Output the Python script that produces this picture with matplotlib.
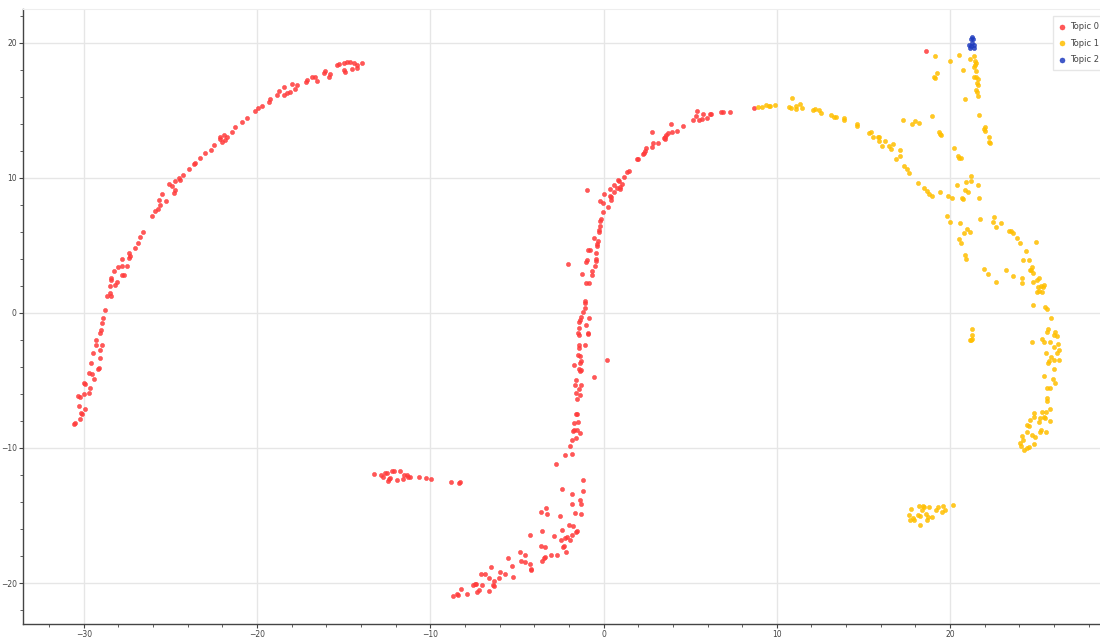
import numpy as np
import matplotlib.pyplot as plt
from matplotlib.ticker import MultipleLocator

# t-SNE coordinates of the documents, grouped by dominant topic
topic0 = np.array([
    # left arc
    (-30.58, -8.25), (-30.48, -8.13), (-30.19, -7.83), (-30.10, -7.51), (-29.90, -7.14),
    (-30.15, -7.44), (-30.29, -6.90), (-30.35, -6.16), (-30.23, -6.23), (-30.00, -6.03),
    (-29.71, -5.91), (-30.00, -5.17), (-29.90, -5.30), (-29.62, -5.54), (-29.71, -4.43),
    (-29.52, -4.56), (-29.42, -4.93), (-29.19, -4.19), (-29.10, -4.06), (-29.56, -3.74),
    (-29.04, -3.33), (-29.48, -2.96), (-29.08, -2.71), (-28.94, -2.41), (-29.27, -2.34),
    (-29.27, -2.04), (-29.04, -1.48), (-29.00, -1.23), (-28.94, -0.74), (-28.88, -0.37),
    (-28.75, 0.25), (-28.65, 1.28), (-28.46, 1.48), (-28.42, 1.28), (-28.50, 1.97),
    (-28.17, 2.09), (-28.08, 2.27), (-28.40, 2.46), (-28.40, 2.59), (-28.23, 3.13),
    (-28.04, 3.37), (-27.79, 3.45), (-27.50, 3.45), (-27.79, 2.83), (-27.69, 2.78),
    (-27.79, 3.99), (-27.40, 4.06), (-27.31, 4.19), (-27.40, 4.43), (-27.02, 4.80),
    (-26.88, 5.17), (-26.73, 5.62), (-26.58, 5.96), (-26.06, 7.14), (-25.87, 7.51),
    (-25.73, 7.68), (-25.58, 8.00), (-25.67, 8.37), (-25.48, 8.82), (-25.23, 8.25),
    (-24.81, 8.87), (-24.71, 9.11), (-24.90, 9.36), (-25.10, 9.53), (-24.71, 9.75),
    (-24.52, 9.98), (-24.42, 9.85), (-24.27, 10.20), (-23.94, 10.64), (-23.65, 11.03),
    (-23.56, 11.13), (-23.31, 11.45), (-22.98, 11.82), (-22.65, 12.07), (-22.50, 12.44),
    (-22.12, 12.86), (-22.15, 13.05), (-21.92, 13.15), (-21.73, 13.05), (-21.83, 12.81),
    (-22.02, 12.68), (-21.44, 13.42), (-21.25, 13.74), (-20.87, 14.16), (-20.58, 14.41),
    (-20.10, 14.98), (-19.96, 15.15), (-19.71, 15.32), (-19.33, 15.64), (-19.27, 15.81),
    (-18.85, 16.13), (-18.75, 16.45), (-18.46, 16.13), (-18.42, 16.70), (-18.27, 16.26),
    (-18.08, 16.38), (-17.98, 16.95), (-17.79, 16.55), (-17.69, 16.87), (-17.15, 17.12),
    (-17.12, 17.24), (-16.83, 17.49), (-16.63, 17.49), (-16.54, 17.19), (-16.15, 17.73),
    (-16.06, 17.93), (-15.87, 17.49), (-15.77, 17.66), (-15.38, 18.35), (-15.29, 18.42),
    (-15.00, 18.52), (-14.81, 18.60), (-15.00, 17.98), (-14.90, 17.86), (-14.62, 18.60),
    (-14.42, 18.52), (-14.52, 18.03), (-14.23, 18.10), (-14.23, 18.35), (-13.94, 18.52),
    # small cluster around (-12, -12)
    (-13.27, -11.89), (-12.83, -11.97), (-12.73, -12.14), (-12.63, -11.84), (-12.50, -11.84),
    (-12.38, -12.29), (-12.44, -12.46), (-12.31, -12.21), (-12.21, -11.72), (-12.10, -11.67),
    (-11.92, -12.38), (-11.73, -11.72), (-11.58, -12.29), (-11.52, -11.97), (-11.35, -11.97),
    (-11.29, -12.14), (-11.15, -12.14), (-10.65, -12.14), (-10.27, -12.21), (-9.94, -12.29),
    (-8.79, -12.51), (-8.35, -12.58), (-8.27, -12.53),
    # lower tail
    (-8.69, -20.93), (-8.44, -20.81), (-8.40, -20.88), (-8.21, -20.44), (-7.87, -20.84),
    (-7.54, -20.15), (-7.44, -20.07), (-7.35, -20.07), (-7.31, -20.64), (-7.21, -20.54),
    (-7.02, -20.12), (-7.10, -19.36), (-6.87, -19.34), (-6.63, -19.63), (-6.60, -20.57),
    (-6.48, -18.82), (-6.38, -20.15), (-6.31, -19.83), (-6.33, -20.20), (-6.04, -19.66),
    (-5.96, -19.16), (-5.71, -19.31), (-5.54, -18.16), (-5.27, -18.75), (-5.23, -19.53),
    (-4.85, -17.71), (-4.77, -18.38), (-4.56, -18.45), (-4.52, -17.89), (-4.23, -18.55),
    (-4.19, -18.92), (-4.17, -19.04), (-4.23, -16.41), (-3.60, -14.72), (-3.54, -16.12),
    (-3.60, -17.27), (-3.37, -17.32), (-3.54, -18.38), (-3.44, -18.13), (-3.37, -18.08),
    (-3.31, -14.47), (-3.27, -14.89), (-3.06, -17.94), (-2.87, -16.51), (-2.77, -11.20),
    (-2.69, -17.91), (-2.54, -15.01), (-2.40, -16.07), (-2.40, -13.07), (-2.46, -16.78),
    (-2.37, -17.32), (-2.27, -17.25), (-2.25, -16.66), (-2.21, -10.54), (-2.15, -17.69),
    (-2.10, -16.61), (-2.00, -15.72), (-1.96, -9.88), (-1.92, -16.78), (-1.85, -13.42),
    (-1.85, -10.47), (-1.81, -16.46), (-1.83, -14.15), (-1.77, -15.80), (-1.67, -14.84),
    (-1.58, -16.22), (-1.54, -16.12), (-1.37, -13.83), (-1.33, -14.15), (-1.29, -14.86),
    (-1.21, -13.19), (-1.17, -12.38),
    # central arc
    (-1.85, -9.41), (-1.58, -9.24), (-1.77, -8.74), (-1.69, -8.67), (-1.52, -8.67),
    (-1.38, -8.87), (-1.73, -8.18), (-1.50, -8.05), (-1.58, -7.46), (-1.54, -7.51),
    (-1.52, -6.40), (-1.38, -6.11), (-1.58, -5.94), (-1.42, -5.67), (-1.29, -5.34),
    (-1.62, -5.37), (-1.58, -4.98), (-1.35, -4.31), (-1.44, -4.19), (-1.31, -4.26),
    (-1.71, -3.89), (-1.35, -3.69), (-1.31, -3.57), (-1.48, -3.08), (-1.38, -3.20),
    (-1.42, -2.59), (-1.40, -2.34), (-1.10, -2.39), (-0.58, -4.78), (0.19, -3.45),
    (-0.90, -1.48), (-0.90, -1.55), (-1.00, -0.89), (-1.48, -1.48), (-1.44, -1.60),
    (-1.44, -1.11), (-1.42, -0.69), (-1.37, -0.54), (-1.29, -0.30), (-0.85, -0.37),
    (-1.19, 0.07), (-1.06, 0.34), (-1.06, 0.74), (-1.08, 0.86), (-1.04, 2.22),
    (-0.85, 2.22), (-1.23, 2.88), (-0.69, 2.78), (-0.65, 3.08), (-0.52, 3.45),
    (-0.42, 3.87), (-0.44, 3.99), (-1.04, 3.74), (-0.98, 3.94), (-0.88, 4.68),
    (-0.81, 4.68), (-0.42, 4.43), (-0.38, 4.93), (-0.38, 5.10), (-0.33, 5.30),
    (-0.56, 5.54), (-0.29, 5.96), (-0.27, 6.16), (-0.23, 6.40), (-0.19, 6.82),
    (-0.15, 6.95), (-0.04, 7.44), (0.25, 7.81), (-0.04, 8.13), (-0.19, 8.30),
    (-2.04, 3.65), (-0.98, 9.06), (0.02, 8.77), (0.44, 8.37), (0.40, 8.55),
    (0.38, 8.67), (0.37, 9.19), (0.63, 8.94), (0.77, 9.21), (0.92, 9.19),
    (0.96, 9.29), (1.06, 9.56), (0.87, 9.78), (0.60, 9.48), (0.83, 9.85),
    (1.19, 10.05), (1.35, 10.42), (1.44, 10.52), (1.94, 11.38), (1.98, 11.40),
    (2.25, 11.75), (2.35, 11.82), (2.40, 12.02), (2.46, 12.19), (2.81, 12.27),
    (2.83, 12.56), (2.81, 13.37), (3.12, 12.56), (3.46, 12.93), (3.52, 13.05),
    (3.52, 12.86), (3.58, 13.18), (3.69, 13.30), (3.92, 13.97), (3.96, 13.42),
    (4.23, 13.50), (4.60, 13.87), (5.15, 14.29), (5.35, 14.58), (5.37, 14.95),
    (5.50, 14.29), (5.73, 14.73), (5.69, 14.33), (5.96, 14.41), (6.12, 14.70),
    (6.19, 14.73), (6.75, 14.85), (6.87, 14.85), (7.27, 14.90), (8.67, 15.20),
    (18.58, 19.38),
])

topic1 = np.array([
    # upper band
    (8.90, 15.27), (9.15, 15.27), (9.35, 15.37), (9.54, 15.32),
    (9.58, 15.32), (9.92, 15.39), (10.88, 15.89), (10.73, 15.22), (10.83, 15.20),
    (11.08, 15.32), (11.12, 15.07), (11.35, 15.47), (11.46, 15.20), (12.08, 15.02),
    (12.21, 15.07), (12.42, 15.02), (12.56, 14.83), (13.13, 14.66), (13.29, 14.53),
    (13.42, 14.48), (13.85, 14.41), (13.90, 14.29), (14.62, 13.97), (14.63, 13.87),
    (15.31, 13.35), (15.44, 13.37), (15.54, 13.05), (15.83, 13.05), (15.92, 12.73),
    (15.88, 13.00), (16.06, 12.39), (16.25, 12.73), (16.50, 12.32), (16.56, 12.14),
    (16.69, 12.49), (17.12, 12.07), (17.08, 11.63), (16.88, 11.40), (17.31, 10.89),
    (17.52, 10.64), (17.62, 10.39), (18.17, 9.61), (18.48, 9.24), (18.65, 8.99),
    (18.81, 8.79), (18.94, 8.62), (19.42, 8.92), (19.87, 8.62), (20.08, 8.50),
    (20.38, 9.48), (20.69, 8.50), (20.75, 8.42), (20.85, 9.11), (21.04, 8.97),
    (20.92, 9.66), (21.21, 10.15), (21.21, 9.73), (21.62, 9.43), (21.65, 8.50),
    (19.81, 7.19), (20.02, 6.75), (20.58, 6.65), (21.73, 6.97), (22.56, 7.09),
    (22.50, 6.70), (22.65, 6.35), (22.92, 6.65), (20.96, 6.21), (21.17, 6.01),
    (20.79, 5.91), (20.54, 5.47), (20.60, 5.17), (20.85, 4.29), (20.94, 4.01),
    (21.94, 3.28), (22.19, 2.91), (22.63, 2.29), (23.23, 3.20), (23.62, 2.71),
    (23.42, 6.03), (23.52, 6.08), (23.65, 5.89), (23.85, 5.54), (24.04, 5.17),
    (24.38, 4.61), (24.23, 3.89), (24.58, 3.89), (24.62, 3.20), (24.69, 3.20),
    (24.75, 3.40), (24.77, 2.96), (24.15, 2.59), (24.15, 2.22), (24.98, 5.22),
    (25.04, 2.46), (25.15, 2.59), (24.77, 2.27), (25.08, 1.92), (25.25, 2.02),
    (25.35, 1.92), (25.40, 2.09), (25.00, 1.55), (25.12, 1.60), (25.31, 1.55),
    (24.77, 0.59), (25.46, 0.44), (25.58, 0.30), (25.83, -0.37), (25.65, -1.18),
    (21.27, -1.18), (17.27, 14.29), (17.81, 13.97), (17.96, 14.24), (18.23, 14.09),
    (18.94, 14.58), (19.33, 13.42), (19.42, 13.25), (19.48, 13.18), (20.21, 12.19),
    (20.44, 11.65), (20.54, 11.45), (20.60, 11.50), (20.87, 15.86), (19.15, 19.04),
    (19.25, 17.78), (19.06, 17.49), (19.10, 17.41), (20.00, 18.65), (20.52, 19.09),
    (20.73, 17.98), (21.12, 18.77), (21.40, 19.01), (21.46, 18.67), (21.50, 18.52),
    (21.44, 18.33), (21.40, 18.18), (21.50, 17.93), (21.40, 17.49), (21.50, 17.44),
    (21.60, 17.29), (21.56, 17.00), (21.60, 16.87), (21.50, 16.50), (21.56, 16.38),
    (21.60, 16.06), (21.69, 14.66), (21.98, 13.60), (22.04, 13.50), (22.04, 13.74),
    (22.23, 13.05), (22.27, 12.68), (22.31, 12.61),
    # right hook
    (21.27, -1.60), (21.25, -1.92), (21.17, -2.02), (21.21, -2.04),
    (25.58, -1.43), (26.08, -1.43), (26.02, -1.60), (26.15, -1.72), (24.71, -2.16),
    (25.29, -1.92), (25.40, -2.14), (25.79, -2.16), (26.21, -2.29), (25.98, -2.51),
    (26.31, -2.75), (25.54, -3.00), (26.17, -2.95), (25.85, -3.24), (25.69, -3.59),
    (25.65, -3.71), (26.02, -3.49), (26.31, -3.51), (26.02, -4.18), (25.42, -4.67),
    (25.92, -4.86), (26.06, -5.16), (25.62, -5.55), (25.77, -5.55), (25.62, -6.31),
    (25.60, -6.54), (25.79, -7.08), (25.31, -7.30), (25.54, -7.32), (24.85, -7.44),
    (24.62, -7.96), (25.21, -7.76), (25.44, -7.69), (25.46, -7.81), (24.83, -7.71),
    (24.46, -8.28), (24.58, -8.35), (25.15, -8.11), (25.79, -8.03), (24.42, -8.85),
    (25.21, -8.80), (25.27, -8.65), (25.56, -8.85), (24.12, -9.09), (24.73, -9.07),
    (24.92, -9.21), (24.21, -9.39), (24.06, -9.63), (24.10, -9.88), (24.25, -10.15),
    (24.46, -9.98), (24.58, -9.90), (24.85, -9.73),
    # cluster near (18.5, -15)
    (17.75, -14.50), (17.65, -14.94), (17.71, -15.31), (17.85, -15.18), (17.94, -15.33),
    (18.23, -14.32), (18.42, -14.30), (18.52, -14.35), (18.77, -14.37), (18.38, -14.62),
    (18.17, -14.99), (18.27, -15.04), (18.62, -14.91), (18.75, -15.13), (18.94, -15.13),
    (18.65, -15.33), (18.27, -15.72), (19.19, -14.62), (19.29, -14.40), (19.52, -14.74),
    (19.58, -14.30), (19.71, -14.62), (20.15, -14.25),
])

topic2 = np.array([
    (21.26, 20.44), (21.19, 20.25), (21.34, 20.25), (21.11, 19.83), (21.19, 19.78),
    (21.40, 19.83), (21.15, 19.63), (21.40, 19.63), (21.26, 19.96),
])

labels = ['Topic 0', 'Topic 1', 'Topic 2']
colors = ['#ff3b3b', '#ffbf00', '#1f3cbf']

fig = plt.figure(figsize=(11, 6.37), dpi=100)
ax = fig.add_axes([0.021, 0.021, 0.979, 0.965])

for pts, lab, col in zip([topic0, topic1, topic2], labels, colors):
    ax.scatter(pts[:, 0], pts[:, 1], s=9, c=col, alpha=0.85,
               edgecolors=col, linewidths=0.4, label=lab, zorder=3)

ax.set_xlim(-33.5, 28.65)
ax.set_ylim(-23.0, 22.5)

ax.xaxis.set_major_locator(MultipleLocator(10))
ax.yaxis.set_major_locator(MultipleLocator(10))
ax.xaxis.set_minor_locator(MultipleLocator(2))
ax.yaxis.set_minor_locator(MultipleLocator(2))

ax.grid(True, which='major', color='#e6e6e6', linewidth=1, zorder=0)
ax.set_axisbelow(True)

for side in ['left', 'bottom']:
    ax.spines[side].set_color('#444444')
    ax.spines[side].set_linewidth(1)
ax.spines['right'].set_visible(False)
ax.spines['top'].set_color('#eeeeee')

ax.tick_params(which='major', direction='out', length=3, width=0.8, color='#444444',
               labelsize=5.5, labelcolor='#444444', pad=1.5)
ax.tick_params(which='minor', direction='out', length=2, width=0.6, color='#444444')

leg = ax.legend(loc='upper left', bbox_to_anchor=(0.956, 0.988), fontsize=6,
                frameon=True, fancybox=False, edgecolor='#e6e6e6', framealpha=1,
                handlelength=0.8, handletextpad=0.6, borderpad=0.7,
                labelspacing=0.9, markerscale=1.2, borderaxespad=0)
for t in leg.get_texts():
    t.set_color('#444444')

fig.savefig('out.png', dpi=100)
